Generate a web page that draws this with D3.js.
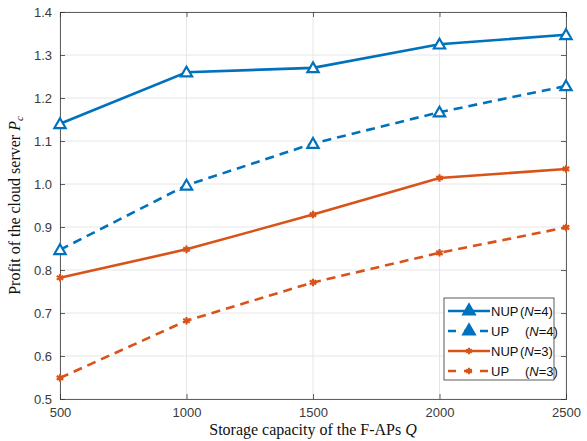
<!DOCTYPE html>
<html>
<head>
<meta charset="utf-8">
<script src="https://cdn.jsdelivr.net/npm/d3@7"></script>
<style>
body{margin:0;background:#fff;}
</style>
</head>
<body>
<div id="chart"></div>
<script>
// storage capacity Q
var capacity = [500, 1000, 1500, 2000, 2500];
var nupN4 = [1.14, 1.26, 1.27, 1.325, 1.347];
var upN4  = [0.847, 0.997, 1.094, 1.167, 1.228];
var nupN3 = [0.782, 0.848, 0.929, 1.014, 1.035];
var upN3  = [0.549, 0.682, 0.771, 0.840, 0.899];
var yTicks = [0.5, 0.6, 0.7, 0.8, 0.9, 1.0, 1.1, 1.2, 1.3, 1.4];
var xTicks = [500, 1000, 1500, 2000, 2500];

var series = [
  {name:"NUP", n:4, values:nupN4, color:"#0072BD", dash:null, marker:"tri"},
  {name:"UP", n:4, values:upN4, color:"#0072BD", dash:"9,6", marker:"tri"},
  {name:"NUP", n:3, values:nupN3, color:"#D95319", dash:null, marker:"star"},
  {name:"UP", n:3, values:upN3, color:"#D95319", dash:"9,6", marker:"star"}
];

var W = 587, H = 441;
var margin = {left:60, right:21, top:12, bottom:42};

var svg = d3.select("#chart").append("svg")
  .attr("width", W).attr("height", H)
  .style("font-family", "'Liberation Sans', Arial, sans-serif");

var x = d3.scaleLinear().domain([500, 2500]).range([margin.left, W - margin.right]);
var y = d3.scaleLinear().domain([0.5, 1.4]).range([H - margin.bottom, margin.top]);

// grid
var grid = svg.append("g");
grid.selectAll(".gx").data(xTicks).enter().append("line")
  .attr("x1", d => x(d)).attr("x2", d => x(d))
  .attr("y1", y(0.5)).attr("y2", y(1.4))
  .attr("stroke", "#e6e6e6").attr("stroke-width", 1);
grid.selectAll(".gy").data(yTicks).enter().append("line")
  .attr("x1", x(500)).attr("x2", x(2500))
  .attr("y1", d => y(d)).attr("y2", d => y(d))
  .attr("stroke", "#e6e6e6").attr("stroke-width", 1);

// axes
var axisColor = "#3a3a3a";
var xAxis = svg.append("g").attr("transform", "translate(0," + y(0.5) + ")")
  .call(d3.axisBottom(x).tickValues(xTicks).tickSize(-5).tickPadding(9).tickFormat(d3.format("d")));
var yAxis = svg.append("g").attr("transform", "translate(" + x(500) + ",0)")
  .call(d3.axisLeft(y).tickValues(yTicks).tickSize(-5).tickPadding(8).tickFormat(d3.format(".1f")));
var xTop = svg.append("g").attr("transform", "translate(0," + y(1.4) + ")")
  .call(d3.axisTop(x).tickValues(xTicks).tickSize(-5).tickFormat(""));
var yRight = svg.append("g").attr("transform", "translate(" + x(2500) + ",0)")
  .call(d3.axisRight(y).tickValues(yTicks).tickSize(-5).tickFormat(""));
[xAxis, yAxis, xTop, yRight].forEach(function(g){
  g.select(".domain").attr("stroke", axisColor).attr("stroke-width", 0.8);
  g.selectAll(".tick line").attr("stroke", axisColor).attr("stroke-width", 0.8);
  g.selectAll(".tick text").attr("fill", axisColor).style("font-size", "13px")
    .style("font-family", "'Liberation Sans', Arial, sans-serif");
});

// lines
var line = d3.line().x((d, i) => x(capacity[i])).y(d => y(d));
var triangle = d3.symbol().type(d3.symbolTriangle).size(55);
var star = d3.symbol().type(d3.symbolAsterisk).size(40);

series.forEach(function(s){
  svg.append("path").datum(s.values)
    .attr("d", line)
    .attr("fill", "none")
    .attr("stroke", s.color)
    .attr("stroke-width", 2.6)
    .attr("stroke-dasharray", s.dash);
  svg.selectAll(null).data(s.values).enter().append("path")
    .attr("transform", (d, i) => "translate(" + x(capacity[i]) + "," + (y(d) + (s.marker == "tri" ? 1 : 0)) + ")")
    .attr("d", s.marker == "tri" ? triangle : star)
    .attr("fill", s.marker == "tri" ? "#fff" : "none")
    .attr("stroke", s.color)
    .attr("stroke-width", 2.2);
});

// axis labels
svg.append("text")
  .attr("x", (x(500) + x(2500)) / 2).attr("y", H - 6)
  .attr("text-anchor", "middle")
  .style("font-family", "'Liberation Serif', 'Times New Roman', serif")
  .style("font-size", "16px").attr("fill", "#111")
  .html("Storage capacity of the F-APs <tspan font-style='italic'>Q</tspan>");
svg.append("text")
  .attr("transform", "translate(20," + ((y(0.5) + y(1.4)) / 2) + ") rotate(-90)")
  .attr("text-anchor", "middle")
  .style("font-family", "'Liberation Serif', 'Times New Roman', serif")
  .style("font-size", "16px").attr("fill", "#111")
  .html("Profit of the cloud server <tspan font-style='italic'>P</tspan><tspan font-style='italic' font-size='11px' dy='3'>c</tspan>");

// legend
var lg = svg.append("g").attr("transform", "translate(444,298)");
lg.append("rect").attr("width", 110).attr("height", 82)
  .attr("fill", "#fff").attr("stroke", "#333").attr("stroke-width", 0.8);
var rowY = [13, 33, 53, 73];
series.forEach(function(s, i){
  var row = lg.append("g").attr("transform", "translate(0," + rowY[i] + ")");
  row.append("line").attr("x1", 4).attr("x2", 46).attr("y1", 0).attr("y2", 0)
    .attr("stroke", s.color).attr("stroke-width", 2.4)
    .attr("stroke-dasharray", s.dash ? "8,8" : null);
  row.append("path").attr("transform", "translate(25,0)")
    .attr("d", s.marker == "tri" ? d3.symbol().type(d3.symbolTriangle).size(60) : d3.symbol().type(d3.symbolAsterisk).size(30))
    .attr("fill", s.color).attr("stroke", s.color).attr("stroke-width", 2);
  var t = row.append("text").attr("x", 47).attr("y", 5)
    .style("font-size", "13px").attr("fill", "#111");
  t.append("tspan").text(s.name);
  t.append("tspan").attr("x", s.name == "NUP" ? 76 : 81).text("(");
  t.append("tspan").attr("font-style", "italic").text("N");
  t.append("tspan").text("=" + s.n + ")");
});
</script>
</body>
</html>
